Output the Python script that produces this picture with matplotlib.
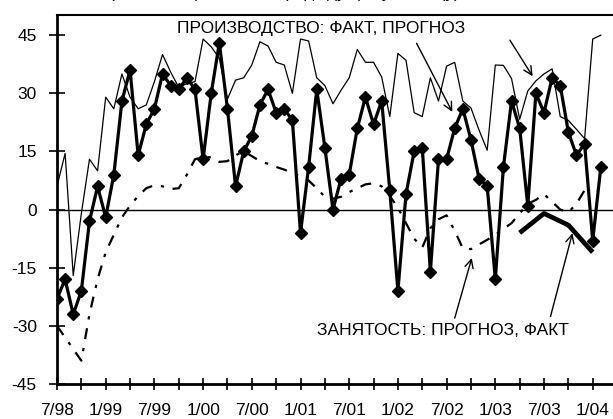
import numpy as np
import matplotlib
matplotlib.use("Agg")
import matplotlib.pyplot as plt

plt.rcParams['font.family'] = ['Liberation Sans', 'DejaVu Sans']
plt.rcParams['axes.unicode_minus'] = False

# месяцы с 7/98 (индекс 0) до 2/04 (индекс 67)
prod_fact = [-23, -18, -27, -21, -3, 6, -2, 9, 28, 36,
             14, 22, 26, 35, 32, 31, 34, 31, 13, 30,
             43, 26, 6, 15, 19, 27, 31, 25, 26, 23,
             -6, 11, 31, 16, 0, 8, 9, 21, 29, 22,
             28, 5, -21, 4, 15, 16, -16, 13, 13, 21,
             26, 18, 8, 6, -18, 11, 28, 21, 1, 30,
             25, 34, 32, 20, 14, 17, -8, 11]

prod_forecast = [6, 14.5, -17, -1, 13, 10, 29, 26, 35, 29,
                 26, 27, 33, 40, 35.5, 31.5, 32.5, 33, 44, 42,
                 39, 28.5, 33.4, 34, 37.3, 43.3, 42.2, 38, 37.3, 30,
                 44, 43.5, 34, 32, 27.3, 30.8, 34, 41.3, 38, 38,
                 34.2, 24, 40.3, 38.5, 25, 24, 34, 28, 37, 38,
                 28, 26.2, 20.5, 15.3, 37.3, 37.2, 33.8, 23.3, 30.6, 33.2,
                 35, 36.3, 24, 23, 20.7, 18.3, 44, 45]

empl_forecast = [-30, -33, -36, -39, -27, -18, -11, -6.5, -2, 1,
                 3.5, 5.5, 6.3, 6, 5.3, 5.5, 9, 13, 13.5, 13.5,
                 12.3, 12.5, 14, 15, 13.8, 12.5, 11.8, 11, 10.3, 9.5,
                 8.5, 7.5, 5.5, 3.3, 2.8, 3.3, 4.5, 5.5, 6.5, 6.8,
                 6, 3.5, 0.5, -3.5, -7.5, -9.8, -4.8, -2.5, -1.5, -5.5,
                 -10, -10.2, -9, -7.8, -6.5, -5, -3.5, -1, 1.5, 2.5,
                 4, 2, 0, -0.7, 1.5, 5]

empl_fact_months = [57, 60, 63, 66]
empl_fact = [-6, -1, -4, -11]

tick_labels = ['7/98', '1/99', '7/99', '1/00', '7/00', '1/01', '7/01',
               '1/02', '7/02', '1/03', '7/03', '1/04']

months = np.arange(len(prod_fact))
months_empl = np.arange(len(empl_forecast))

fig = plt.figure(figsize=(6.13, 4.19), dpi=100)
ax = fig.add_axes([57 / 613, 35 / 419, 1 - 57 / 613, (384 - 15) / 419])

ax.axhline(0, color='black', lw=1.0, zorder=1)

ax.plot(months, prod_forecast, color='black', lw=0.9, zorder=2)
ax.plot(months_empl, empl_forecast, color='black', lw=1.6,
        dashes=(5, 4, 1.5, 4), zorder=2)
ax.plot(empl_fact_months, empl_fact, color='black', lw=3.4,
        solid_capstyle='butt', zorder=3)
ax.plot(months, prod_fact, color='black', lw=2.3, marker='D',
        markersize=6.5, zorder=4)

ax.set_xlim(0, 68.5)
ax.set_ylim(-45, 50.2)

ax.set_yticks(np.arange(-45, 46, 15))
ax.set_xticks(np.arange(0, 67, 6))
ax.set_xticklabels(tick_labels)
ax.set_xticks(np.arange(0, 69, 3), minor=True)

ax.tick_params(axis='y', which='major', direction='inout', length=11,
               width=1.2, labelsize=12.5, pad=9)
ax.tick_params(axis='x', which='both', direction='inout', length=9,
               width=1.2, labelsize=12.5, pad=9)

for side in ['left', 'bottom']:
    ax.spines[side].set_linewidth(2)
ax.spines['top'].set_linewidth(1.5)
ax.spines['right'].set_visible(False)

ax.text(32.6, 46.8, 'ПРОИЗВОДСТВО: ФАКТ, ПРОГНОЗ', ha='center',
        va='center', fontsize=12.5)
ax.text(47.6, -31.1, 'ЗАНЯТОСТЬ: ПРОГНОЗ, ФАКТ', ha='center',
        va='center', fontsize=12.5)

arrow = dict(arrowstyle='->,head_length=0.6,head_width=0.3', lw=1.0,
             color='black', shrinkA=0, shrinkB=0)
ax.annotate('', xy=(48.7, 25.2), xytext=(44.3, 42.9), arrowprops=arrow)
ax.annotate('', xy=(58.6, 34.4), xytext=(55.8, 43.7), arrowprops=arrow)
ax.annotate('', xy=(51.1, -12.5), xytext=(49.0, -28.0), arrowprops=arrow)
ax.annotate('', xy=(63.5, -6.1), xytext=(60.8, -27.6), arrowprops=arrow)

# заголовок, почти полностью срезанный верхним краем
fig.text(284 / 613, 1 + 2.2 / 419, '(баланс оценок, % к предыдущему месяцу)',
         ha='center', va='baseline', fontsize=12.5)

fig.savefig('out.png', dpi=100)
